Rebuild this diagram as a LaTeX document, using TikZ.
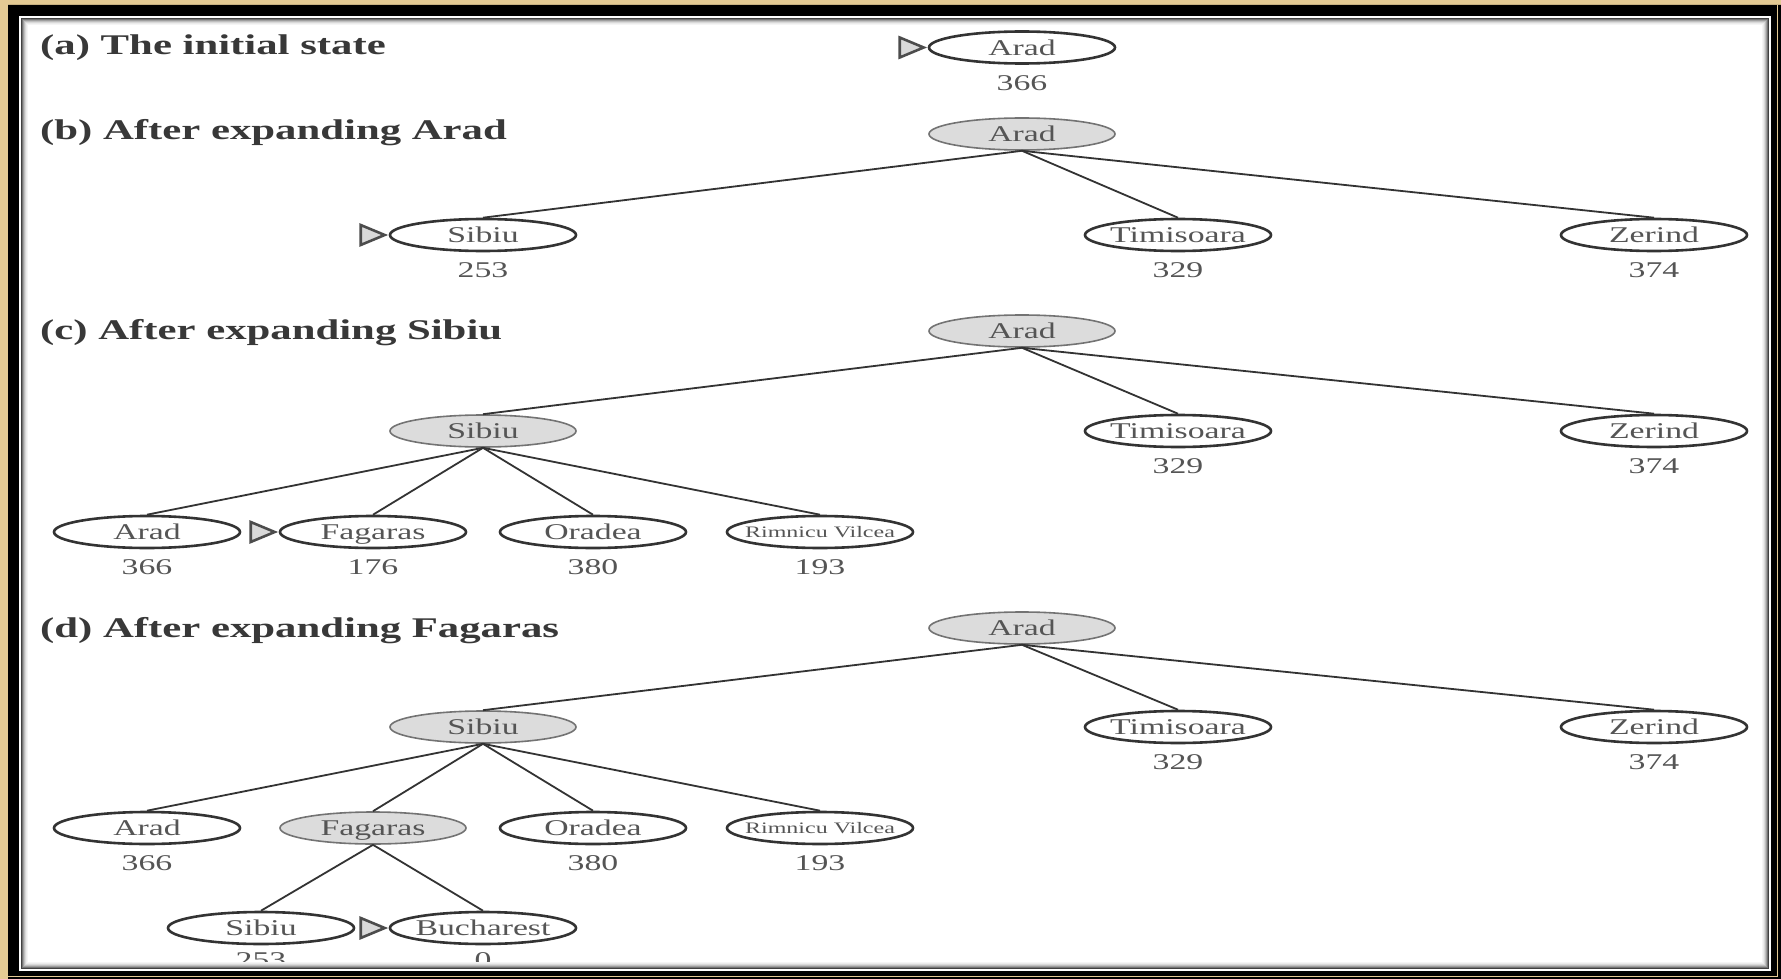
\documentclass[tikz,border=0pt]{standalone}
\usepackage{fontspec}
\setmainfont{Liberation Serif}
\usepackage{graphicx}
\usetikzlibrary{shapes.geometric}

\definecolor{wood}{HTML}{E4CA94}
\definecolor{ink}{HTML}{333333}
\definecolor{txt}{HTML}{555555}
\definecolor{shade}{HTML}{DCDCDC}

% text in this figure is set wide; node names ignore descenders when centred
\newcommand\wide[1]{\scalebox{1.5}[1]{#1}}
\newcommand\cwide[1]{\makebox[0pt]{\raisebox{0pt}[\height][0pt]{\wide{#1}}}}

\tikzset{
  state/.style={ellipse, draw=ink, line width=2.6pt, fill=white,
    minimum width=186pt, minimum height=32pt, inner sep=0pt, text=txt,
    font=\fontsize{22.5}{24}\selectfont},
  expanded/.style={state, fill=shade, draw=black!55, line width=1.6pt},
  small/.style={font=\fontsize{16}{18}\selectfont},
  val/.style={anchor=center, yshift=-18pt, inner sep=0pt, text=txt,
    font=\fontsize{22.5}{24}\selectfont},
  lowval/.style={val, yshift=3pt},
  edge/.style={draw=ink, line width=1.8pt},
  caption/.style={anchor=base west, inner sep=0pt, text=black!78,
    font=\bfseries\fontsize{28.5}{30}\selectfont},
  frontier/.style={draw=black!70, fill=black!15, line width=2.6pt, line join=miter},
}

\begin{document}
\begin{tikzpicture}[x=1pt,y=-1pt]
\useasboundingbox (0,0) rectangle (1781,979);
\fill[wood] (0,0) rectangle (1781,979);
\fill[white] (21,18) rectangle (1769,969);

% ---- (a) ----
\node[caption] (ta) at (40,55) {\wide{(a) The initial state}};
\node[state, label={[val]below:\wide{366}}] (A0) at (1022,47.5) {\cwide{Arad}};
\draw[frontier] ([xshift=-4pt]A0.west) -- ++(-24,-10) -- ++(0,20) -- cycle;

% ---- (b) ----
\node[caption] (tb) at (40,140) {\wide{(b) After expanding Arad}};
\node[expanded] (B0) at (1022,134) {\cwide{Arad}};
\node[state, label={[val]below:\wide{253}}] (B1) at (483,235) {\cwide{Sibiu}};
\node[state, label={[val]below:\wide{329}}] (B2) at (1178,235) {\cwide{Timisoara}};
\node[state, label={[val]below:\wide{374}}] (B3) at (1654,235) {\cwide{Zerind}};
\foreach \c in {B1,B2,B3} \draw[edge] (B0.south) -- (\c.north);
\draw[frontier] ([xshift=-4pt]B1.west) -- ++(-24,-10) -- ++(0,20) -- cycle;

% ---- (c) ----
\node[caption] (tc) at (40,339) {\wide{(c) After expanding Sibiu}};
\node[expanded] (C0) at (1022,331) {\cwide{Arad}};
\node[expanded] (C1) at (483,431) {\cwide{Sibiu}};
\node[state, label={[val]below:\wide{329}}] (C2) at (1178,431) {\cwide{Timisoara}};
\node[state, label={[val]below:\wide{374}}] (C3) at (1654,431) {\cwide{Zerind}};
\node[state, label={[val]below:\wide{366}}] (C11) at (147,532) {\cwide{Arad}};
\node[state, label={[val]below:\wide{176}}] (C12) at (373,532) {\cwide{Fagaras}};
\node[state, label={[val]below:\wide{380}}] (C13) at (593,532) {\cwide{Oradea}};
\node[state, small, label={[val]below:\wide{193}}] (C14) at (820,532) {\cwide{Rimnicu Vilcea}};
\foreach \c in {C1,C2,C3} \draw[edge] (C0.south) -- (\c.north);
\foreach \c in {C11,C12,C13,C14} \draw[edge] (C1.south) -- (\c.north);
\draw[frontier] ([xshift=-4pt]C12.west) -- ++(-24,-10) -- ++(0,20) -- cycle;

% ---- (d) ----
\node[caption] (td) at (40,637) {\wide{(d) After expanding Fagaras}};
\node[expanded] (D0) at (1022,628) {\cwide{Arad}};
\node[expanded] (D1) at (483,727) {\cwide{Sibiu}};
\node[state, label={[val]below:\wide{329}}] (D2) at (1178,727) {\cwide{Timisoara}};
\node[state, label={[val]below:\wide{374}}] (D3) at (1654,727) {\cwide{Zerind}};
\node[state, label={[val]below:\wide{366}}] (D11) at (147,828) {\cwide{Arad}};
\node[expanded] (D12) at (373,828) {\cwide{Fagaras}};
\node[state, label={[val]below:\wide{380}}] (D13) at (593,828) {\cwide{Oradea}};
\node[state, small, label={[val]below:\wide{193}}] (D14) at (820,828) {\cwide{Rimnicu Vilcea}};
\node[state, label={[lowval]below:\wide{253}}] (D121) at (261,928) {\cwide{Sibiu}};
\node[state, label={[lowval]below:\wide{0}}] (D122) at (483,928) {\cwide{Bucharest}};
\foreach \c in {D1,D2,D3} \draw[edge] (D0.south) -- (\c.north);
\foreach \c in {D11,D12,D13,D14} \draw[edge] (D1.south) -- (\c.north);
\foreach \c in {D121,D122} \draw[edge] (D12.south) -- (\c.north);
\draw[frontier] ([xshift=-4pt]D122.west) -- ++(-24,-10) -- ++(0,20) -- cycle;

% ---- picture frame ----
\fill[black, even odd rule] (8,5) rectangle (1781,979) (21,18) rectangle (1769,969);
\draw[white, line width=1.6pt] (20,17) rectangle (1770,970);
\foreach \i/\c in {0/75,1/55,2/38,3/25,4/15,5/8,6/4}
  \draw[black!\c, line width=1pt] (21.5+\i,18.5+\i) rectangle (1768.5-\i,968.5-\i);
\draw[wood, line width=1.2pt] (8,976.5) -- (1777.5,976.5) -- (1777.5,5);
\end{tikzpicture}
\end{document}
